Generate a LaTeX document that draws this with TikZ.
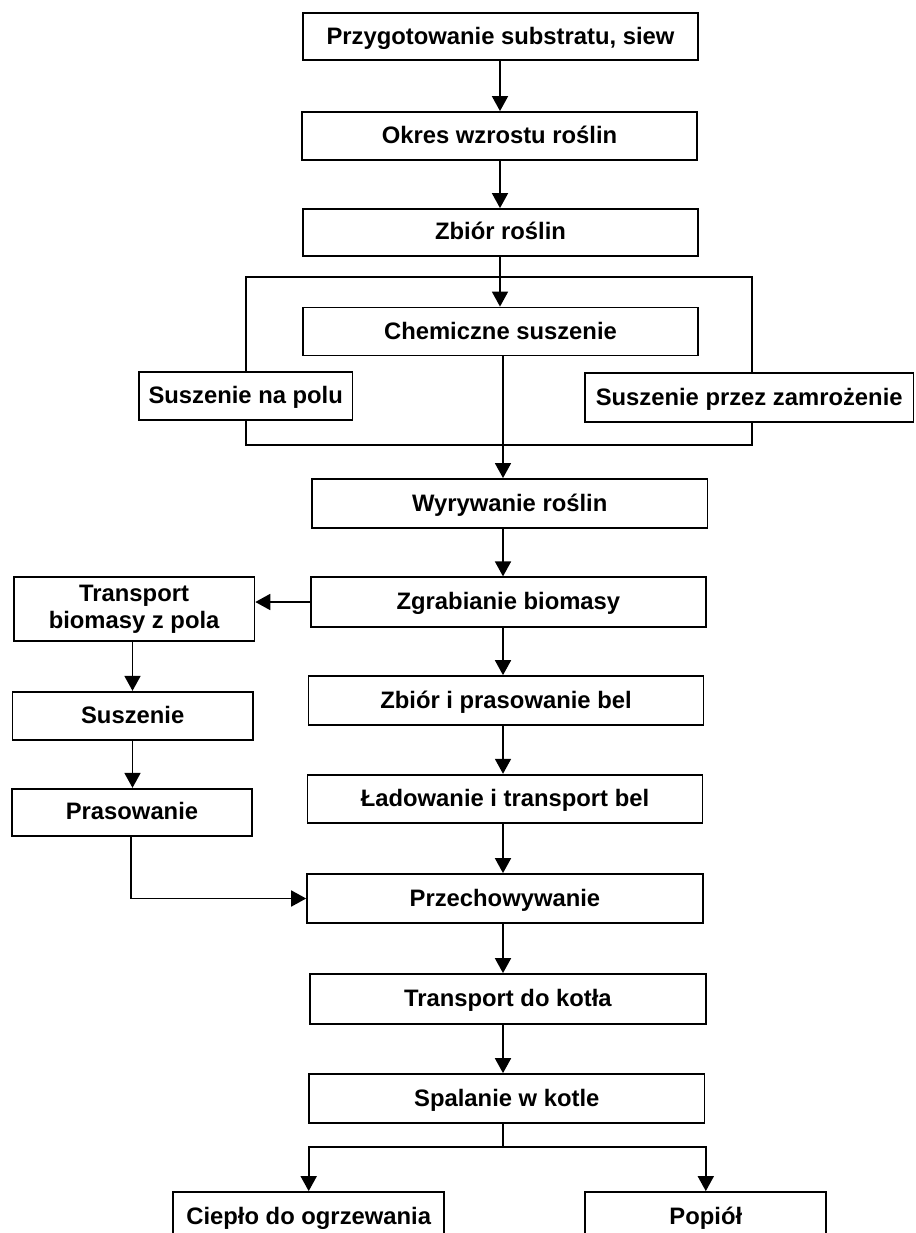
\documentclass[tikz,border=0pt]{standalone}
\usepackage{fontspec}
\setmainfont{Liberation Sans}
\usetikzlibrary{arrows.meta}
\tikzset{
  box/.style={draw, line width=1.8pt, fill=white, inner sep=0pt, align=center,
    font=\bfseries\fontsize{23.8}{27.3}\selectfont, text height=18pt, text depth=3pt},
  box2/.style={draw, line width=1.8pt, fill=white, inner sep=0pt, align=center,
    font=\bfseries\fontsize{23.8}{27.3}\selectfont},
  ln/.style={line width=1.8pt},
  arr/.style={line width=1.8pt, -{Triangle[length=15pt,width=16pt]}}
}
\begin{document}
\begin{tikzpicture}[x=1pt,y=-1pt]
\clip (0,0) rectangle (915,1233);
\fill[white] (0,0) rectangle (915,1233);
% spine coordinates
\coordinate (sp1) at (500,0);
\coordinate (sp2) at (503,0);
\coordinate (fl) at (246,0);
\coordinate (fr) at (752,0);
\coordinate (sl) at (132.5,0);
\coordinate (sl2) at (130.7,0);
\coordinate (ftop) at (500,277.3);
\coordinate (fbot) at (503,445);
\coordinate (bus) at (503,1147.3);
% nodes
\node[box, minimum width=395pt, minimum height=46.7pt] (prep) at (500.5,36.7) {Przygotowanie substratu, siew};
\node[box, minimum width=395pt, minimum height=48pt] (okres) at (499.5,136) {Okres wzrostu roślin};
\node[box, minimum width=395pt, minimum height=47pt] (zbior) at (500.5,232.5) {Zbiór roślin};
\node[box, minimum width=395pt, minimum height=48pt] (chem) at (500.5,331.5) {Chemiczne suszenie};
\node[box, minimum width=213.5pt, minimum height=48pt] (polu) at (245.7,396.3) {Suszenie na polu};
\node[box, minimum width=328.5pt, minimum height=48.3pt] (zamr) at (749.2,397.5) {Suszenie przez zamrożenie};
\node[box, minimum width=395.5pt, minimum height=49.3pt] (wyry) at (509.7,503.6) {Wyrywanie roślin};
\node[box, minimum width=395pt, minimum height=49.4pt] (zgrab) at (508.4,602) {Zgrabianie biomasy};
\node[box2, minimum width=240.6pt, minimum height=63.7pt] (transp) at (134.1,609.2) {Transport\\biomasy z pola};
\node[box, minimum width=395pt, minimum height=49.3pt] (zbior2) at (506,700.7) {Zbiór i prasowanie bel};
\node[box, minimum width=395pt, minimum height=48.6pt] (lad) at (505,799) {Ładowanie i transport bel};
\node[box, minimum width=240.6pt, minimum height=48.3pt] (susz) at (132.7,715.9) {Suszenie};
\node[box, minimum width=240.6pt, minimum height=47.3pt] (pras) at (132,812.4) {Prasowanie};
\node[box, minimum width=395.7pt, minimum height=49pt] (przech) at (504.9,898.5) {Przechowywanie};
\node[box, minimum width=395.8pt, minimum height=50pt] (tkot) at (507.9,999) {Transport do kotła};
\node[box, minimum width=395.5pt, minimum height=49.3pt] (spal) at (506.8,1098.7) {Spalanie w kotle};
\node[box, minimum width=271pt, minimum height=49pt] (ciep) at (308.7,1216.5) {Ciepło do ogrzewania};
\node[box, minimum width=241pt, minimum height=49pt] (pop) at (705.8,1216.5) {Popiół};
% connectors
\draw[arr] (prep.south -| sp1) -- (okres.north -| sp1);
\draw[arr] (okres.south -| sp1) -- (zbior.north -| sp1);
\draw[arr] (zbior.south -| sp1) -- (chem.north -| sp1);
\draw[ln] (polu.north -| fl) |- (ftop) -| (zamr.north -| fr);
\draw[ln] (polu.south -| fl) |- (fbot) -| (zamr.south -| fr);
\draw[arr] (chem.south -| sp2) -- (wyry.north -| sp2);
\draw[arr] (wyry.south -| sp2) -- (zgrab.north -| sp2);
\draw[arr] (zgrab.west) -- (transp.east |- zgrab.west);
\draw[arr] (zgrab.south -| sp2) -- (zbior2.north -| sp2);
\draw[arr] (zbior2.south -| sp2) -- (lad.north -| sp2);
\draw[arr] (lad.south -| sp2) -- (przech.north -| sp2);
\draw[arr] (transp.south -| sl) -- (susz.north -| sl);
\draw[arr] (susz.south -| sl) -- (pras.north -| sl);
\draw[arr] (pras.south -| sl2) |- (przech.west);
\draw[arr] (przech.south -| sp2) -- (tkot.north -| sp2);
\draw[arr] (tkot.south -| sp2) -- (spal.north -| sp2);
\draw[ln] (spal.south -| sp2) -- (bus);
\draw[arr] (bus) -| (ciep.north);
\draw[arr] (bus) -| (pop.north);
\end{tikzpicture}
\end{document}
